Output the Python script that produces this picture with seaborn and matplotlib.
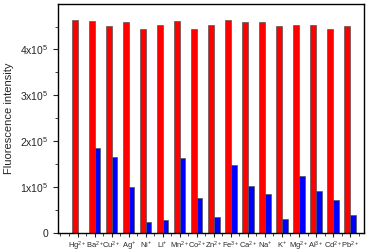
import matplotlib
matplotlib.use('Agg')
import matplotlib.pyplot as plt
import pandas as pd
import seaborn as sns
from matplotlib.ticker import MultipleLocator, FuncFormatter

# ions and intensities
ions = ['Hg$^{2+}$', 'Ba$^{2+}$', 'Cu$^{2+}$', 'Ag$^{+}$', 'Ni$^{+}$', 'Li$^{+}$',
        'Mn$^{2+}$', 'Co$^{2+}$', 'Zn$^{2+}$', 'Fe$^{3+}$', 'Ca$^{2+}$', 'Na$^{+}$',
        'K$^{+}$', 'Mg$^{2+}$', 'Al$^{3+}$', 'Cd$^{2+}$', 'Pb$^{2+}$']
red_vals = [4.65, 4.63, 4.51, 4.60, 4.45, 4.54, 4.61, 4.44, 4.54, 4.65,
            4.60, 4.59, 4.52, 4.54, 4.53, 4.45, 4.51]
blue_vals = [0.0, 1.85, 1.65, 1.00, 0.235, 0.29, 1.635, 0.77, 0.34, 1.49,
             1.03, 0.86, 0.30, 1.25, 0.92, 0.73, 0.40]

df = pd.DataFrame({
    'ion': ions * 2,
    'value': [v * 1e5 for v in red_vals] + [v * 1e5 for v in blue_vals],
    'series': ['a'] * len(ions) + ['b'] * len(ions),
})

sns.set_style('ticks')
plt.rcParams['font.family'] = ['Liberation Sans', 'DejaVu Sans']
plt.rcParams['mathtext.fontset'] = 'custom'
plt.rcParams['mathtext.rm'] = 'Liberation Sans'

fig = plt.figure(figsize=(3.7, 2.52), dpi=100)
ax = fig.add_axes([0.157, 0.075, 0.827, 0.909])

sns.barplot(data=df, x='ion', y='value', hue='series', palette=['#ff0000', '#0000ff'],
            saturation=1, width=0.67, gap=0, edgecolor='#555555', linewidth=0.5,
            legend=False, ax=ax)

ax.set_xlim(-1.14, 16.82)
ax.set_ylim(0, 4.99e5)
ax.yaxis.set_major_locator(MultipleLocator(1e5))
ax.yaxis.set_minor_locator(MultipleLocator(0.5e5))
ax.yaxis.set_major_formatter(FuncFormatter(
    lambda v, p: '0' if v == 0 else '%dx10$^5$' % round(v / 1e5)))
ax.xaxis.set_minor_locator(MultipleLocator(0.5))

ax.set_xlabel('')
ax.set_ylabel('Fluorescence intensity', fontsize=8)
ax.tick_params(axis='y', labelsize=7.5, length=3.5, width=0.8, direction='out')
ax.tick_params(axis='y', which='minor', length=2, width=0.6)
ax.tick_params(axis='x', labelsize=5.4, length=3, width=0.8, pad=1.5)
ax.tick_params(axis='x', which='minor', length=2, width=0.6)

for s in ax.spines.values():
    s.set_linewidth(1.0)
    s.set_color('black')

fig.savefig('out.png', dpi=100)
